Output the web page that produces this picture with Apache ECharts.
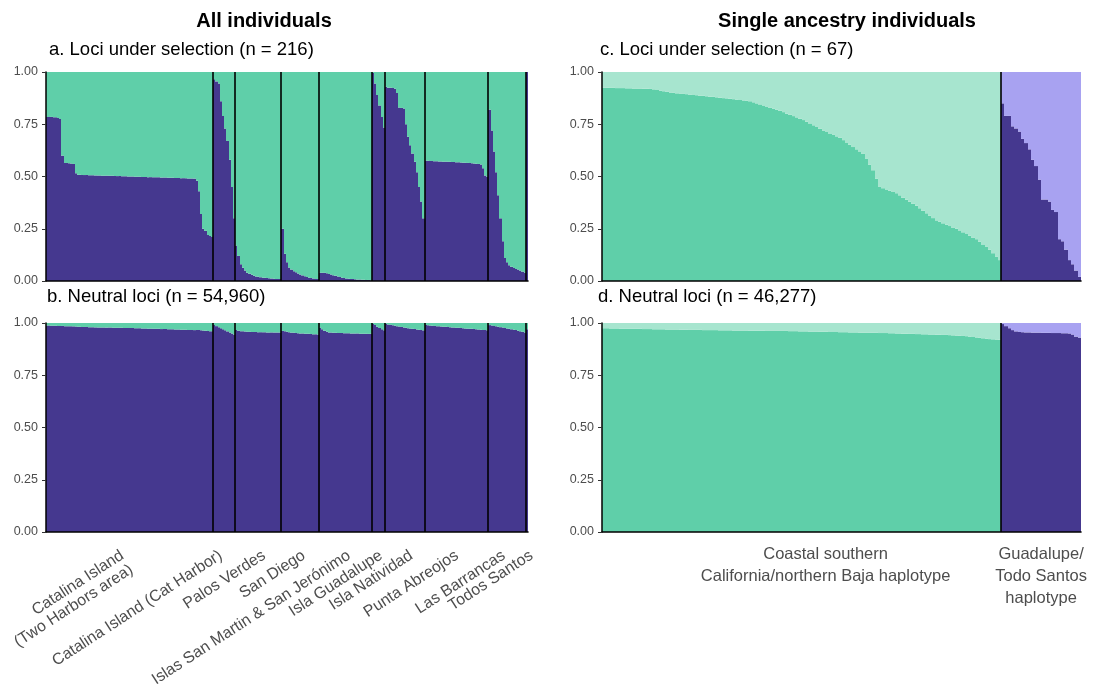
<!DOCTYPE html>
<html>
<head>
<meta charset="utf-8">
<script src="https://cdn.jsdelivr.net/npm/echarts@6/dist/echarts.min.js"></script>
<style>
  html, body { margin: 0; padding: 0; background: #ffffff; }
  #chart { width: 1099px; height: 694px; }
</style>
</head>
<body>
<div id="chart"></div>
<script>
// ---------------------------------------------------------------
// Sampling sites (all individuals), in plotting order
// ---------------------------------------------------------------
const populations = [
  'Catalina Island\n(Two Harbors area)',
  'Catalina Island (Cat Harbor)',
  'Palos Verdes',
  'San Diego',
  'Islas San Martin & San Jerónimo',
  'Isla Guadalupe',
  'Isla Natividad',
  'Punta Abreojos',
  'Las Barrancas',
  'Todos Santos'
];

// Ancestry proportion of the first cluster, one value per individual,
// grouped by sampling site. a. Loci under selection (n = 216)
const selectedAll = [
  [0.785, 0.785, 0.785, 0.784, 0.784, 0.780, 0.775,
   0.600,
   0.565, 0.565, 0.563, 0.562, 0.560,
   0.515,
   0.508, 0.508, 0.507, 0.507, 0.507, 0.506, 0.506, 0.506, 0.505, 0.505, 0.505,
   0.504, 0.504, 0.504, 0.503, 0.503, 0.503, 0.502, 0.502, 0.502, 0.501, 0.501,
   0.501, 0.500, 0.500, 0.500, 0.499, 0.499, 0.499, 0.498, 0.498, 0.498, 0.497,
   0.497, 0.497, 0.496, 0.496, 0.496, 0.495, 0.495, 0.495, 0.494, 0.494, 0.494,
   0.493, 0.493, 0.493, 0.492, 0.492, 0.492, 0.491, 0.491, 0.490,
   0.490, 0.480, 0.430, 0.320, 0.250, 0.240, 0.220, 0.215, 0.210],
  [0.965, 0.955, 0.945, 0.860, 0.790, 0.730, 0.670, 0.580, 0.450, 0.300],
  [0.170, 0.120, 0.080, 0.063, 0.050, 0.040, 0.035, 0.030, 0.025, 0.022, 0.020,
   0.018, 0.016, 0.015, 0.014, 0.013, 0.012, 0.011, 0.010, 0.010, 0.009],
  [0.250, 0.130, 0.090, 0.065, 0.055, 0.047, 0.042, 0.036, 0.031, 0.027, 0.023,
   0.019, 0.016, 0.014, 0.012, 0.010, 0.009],
  [0.040, 0.040, 0.039, 0.037, 0.034, 0.031, 0.028, 0.025, 0.022, 0.019, 0.016,
   0.014, 0.012, 0.011, 0.010, 0.009, 0.008, 0.007, 0.007, 0.006, 0.006, 0.005,
   0.005, 0.004],
  [0.995, 0.945, 0.890, 0.840, 0.785, 0.735],
  [0.930, 0.925, 0.925, 0.923, 0.920, 0.900, 0.830, 0.828, 0.825, 0.750, 0.690,
   0.650, 0.610, 0.570, 0.520, 0.450, 0.380, 0.300],
  [0.575, 0.575, 0.574, 0.574, 0.573, 0.573, 0.572, 0.572, 0.571, 0.571, 0.570,
   0.570, 0.569, 0.569, 0.568, 0.568, 0.567, 0.566, 0.566, 0.565, 0.564, 0.563,
   0.562, 0.561, 0.560, 0.558, 0.540, 0.505, 0.500],
  [0.820, 0.720, 0.620, 0.520, 0.410, 0.300, 0.190, 0.110, 0.090, 0.075, 0.068,
   0.062, 0.058, 0.055, 0.050, 0.045, 0.040],
  [1.000]
];

// b. Neutral loci (n = 54,960)
const neutralAll = [
  [0.988, 0.988, 0.987, 0.987, 0.987, 0.986, 0.986, 0.986, 0.985, 0.985, 0.985,
   0.984, 0.984, 0.983,
   0.982, 0.982, 0.981, 0.981, 0.981, 0.980, 0.980, 0.980, 0.979, 0.979, 0.979,
   0.979, 0.978, 0.978, 0.978, 0.978, 0.977, 0.977, 0.977, 0.977, 0.977, 0.976,
   0.976, 0.976, 0.976, 0.976,
   0.975, 0.975, 0.975, 0.974, 0.974, 0.974, 0.973, 0.973, 0.973, 0.972, 0.972,
   0.972, 0.971, 0.971, 0.971, 0.970, 0.970, 0.970, 0.969, 0.969, 0.969, 0.968,
   0.968, 0.968, 0.967, 0.967, 0.967, 0.966, 0.966, 0.966,
   0.965, 0.964, 0.963, 0.962, 0.961, 0.960],
  [0.990, 0.985, 0.980, 0.975, 0.970, 0.965, 0.960, 0.955, 0.950, 0.945],
  [0.966, 0.963, 0.961, 0.960, 0.959, 0.958, 0.958, 0.957, 0.957, 0.957, 0.956,
   0.956, 0.956, 0.956, 0.955, 0.955, 0.955, 0.955, 0.955, 0.954, 0.954],
  [0.962, 0.960, 0.958, 0.956, 0.954, 0.953, 0.952, 0.951, 0.950, 0.950, 0.949,
   0.948, 0.948, 0.947, 0.946, 0.946, 0.945],
  [0.978, 0.970, 0.963, 0.958, 0.955, 0.954, 0.953, 0.953, 0.952, 0.952, 0.952,
   0.951, 0.951, 0.951, 0.950, 0.950, 0.950, 0.950, 0.949, 0.949, 0.949, 0.948,
   0.948, 0.948],
  [0.995, 0.990, 0.982, 0.976, 0.970, 0.965],
  [0.995, 0.993, 0.991, 0.989, 0.987, 0.985, 0.983, 0.981, 0.979, 0.977, 0.975,
   0.974, 0.972, 0.971, 0.969, 0.968, 0.966, 0.965],
  [0.990, 0.989, 0.988, 0.987, 0.986, 0.985, 0.984, 0.983, 0.982, 0.982, 0.981,
   0.980, 0.979, 0.978, 0.977, 0.977, 0.976, 0.975, 0.974, 0.973, 0.973, 0.972,
   0.971, 0.970, 0.969, 0.968, 0.967, 0.966, 0.965],
  [0.990, 0.988, 0.986, 0.984, 0.982, 0.980, 0.978, 0.976, 0.974, 0.972, 0.970,
   0.968, 0.966, 0.963, 0.960, 0.958, 0.955],
  [0.970]
];

// Single ancestry individuals, grouped by haplotype
const haplotypes = [
  'Coastal southern\nCalifornia/northern Baja haplotype',
  'Guadalupe/\nTodo Santos\nhaplotype'
];

// c. Loci under selection (n = 67)
const coastalSelected = [
  0.925, 0.925, 0.924, 0.924, 0.923, 0.923, 0.923, 0.922, 0.922, 0.921, 0.921,
  0.921, 0.920, 0.920, 0.919,
  0.917, 0.914, 0.911, 0.908, 0.905, 0.902, 0.900,
  0.898, 0.897, 0.895, 0.894, 0.892, 0.890, 0.889, 0.887, 0.886, 0.884, 0.882,
  0.881, 0.879, 0.877, 0.875,
  0.874, 0.872, 0.870, 0.868, 0.866, 0.864, 0.862, 0.860,
  0.855, 0.850, 0.845, 0.840, 0.835, 0.830, 0.825, 0.820,
  0.814, 0.808, 0.801, 0.795, 0.789, 0.783, 0.776, 0.770,
  0.762, 0.754, 0.745, 0.737, 0.728, 0.720,
  0.713, 0.706, 0.699, 0.692, 0.685,
  0.674, 0.663, 0.652, 0.641, 0.630, 0.620, 0.610,
  0.584, 0.557, 0.530,
  0.490, 0.450,
  0.444, 0.438, 0.432, 0.426, 0.420,
  0.410, 0.399, 0.389, 0.379, 0.369, 0.360,
  0.348, 0.336, 0.324, 0.313, 0.301, 0.290,
  0.283, 0.276, 0.269, 0.263, 0.256, 0.250,
  0.242, 0.233, 0.225, 0.217, 0.208, 0.200,
  0.188, 0.175, 0.163, 0.150,
  0.133, 0.117, 0.100
];
const guadalupeSelected = [
  0.850, 0.790, 0.790, 0.740, 0.730, 0.715, 0.680, 0.660, 0.630, 0.580, 0.550,
  0.485, 0.390, 0.390, 0.380, 0.340, 0.330, 0.200, 0.190, 0.150, 0.100, 0.080,
  0.050, 0.020
];

// d. Neutral loci (n = 46,277)
const coastalNeutral = [
  0.975, 0.975, 0.974, 0.974, 0.974, 0.973, 0.973, 0.973, 0.972, 0.972, 0.972,
  0.972, 0.971, 0.971, 0.971, 0.970, 0.970, 0.970, 0.970, 0.969, 0.969, 0.969,
  0.969, 0.968, 0.968, 0.968,
  0.967, 0.967, 0.967, 0.967, 0.966, 0.966, 0.966, 0.966, 0.966, 0.965, 0.965,
  0.965, 0.965, 0.964, 0.964, 0.964, 0.964, 0.964, 0.963, 0.963, 0.963, 0.963,
  0.963, 0.962, 0.962, 0.962, 0.962, 0.962, 0.962, 0.962,
  0.961, 0.961, 0.961, 0.960, 0.960, 0.960, 0.959, 0.959, 0.959, 0.958, 0.958,
  0.958, 0.957, 0.957, 0.957, 0.956, 0.956, 0.956, 0.955, 0.955, 0.955, 0.954,
  0.954, 0.954, 0.953, 0.953, 0.953, 0.952, 0.952, 0.952,
  0.951, 0.951, 0.950, 0.950, 0.949, 0.949, 0.948, 0.948, 0.947, 0.947, 0.946,
  0.946, 0.945, 0.945, 0.944, 0.944, 0.943, 0.943, 0.942, 0.941,
  0.940, 0.939, 0.938, 0.937, 0.935, 0.933, 0.931, 0.929, 0.927, 0.925, 0.923,
  0.922, 0.921, 0.920
];
const guadalupeNeutral = [
  0.995, 0.985, 0.975, 0.966, 0.960, 0.957, 0.956, 0.955, 0.955, 0.954, 0.954,
  0.954, 0.953, 0.953, 0.953, 0.952, 0.952, 0.952, 0.951, 0.951, 0.950, 0.945,
  0.935, 0.930
];

// ---------------------------------------------------------------
// Styling and layout
// ---------------------------------------------------------------
const FONT = '"Liberation Sans", Arial, Helvetica, sans-serif';
const TEXT_GREY = '#4d4d4d';
const DARK_PURPLE = '#45388f';
const GREEN = '#5fcfa9';
const LIGHT_GREEN = '#a7e5cf';
const LIGHT_PURPLE = '#a8a2f1';

const GRIDS = [
  { left: 46,  top: 72,  width: 482, height: 209 },   // a
  { left: 46,  top: 323, width: 482, height: 209 },   // b
  { left: 602, top: 72,  width: 479, height: 209 },   // c
  { left: 602, top: 323, width: 479, height: 209 }    // d
];

// Pixel shifts of the site / haplotype label anchors from the group centres
// (kept inside the axis range so every label is drawn)
const SITE_LABEL_SHIFT = [-12, -8, 1, -1, -1, -2, 2, -4, -8, 0];
const HAPLO_LABEL_SHIFT = [24, 0];

// ---------------------------------------------------------------
// Helpers
// ---------------------------------------------------------------
// Turn grouped proportions into stacked bar segments:
// [index, lower, upper, groupIndex, part(0 = bottom, 1 = top)]
function segments(groups) {
  const rows = [];
  let i = 0;
  groups.forEach((g, gi) => {
    g.forEach(q => {
      rows.push([i, 0, q, gi, 0]);
      rows.push([i, q, 1, gi, 1]);
      i++;
    });
  });
  return rows;
}
function groupEdges(groups) {
  const edges = [];
  let acc = 0;
  groups.forEach((g, gi) => {
    acc += g.length;
    if (gi < groups.length - 1) edges.push(acc);
  });
  return edges;
}
function groupCentres(groups) {
  const c = [];
  let acc = 0;
  groups.forEach(g => { c.push(acc + g.length / 2); acc += g.length; });
  return c;
}
function total(groups) { return groups.reduce((s, g) => s + g.length, 0); }

function barSeries(k, groups, palette) {
  return {
    type: 'custom',
    xAxisIndex: k, yAxisIndex: k,
    silent: true,
    z: 2,
    data: segments(groups),
    renderItem: function (params, api) {
      const i = api.value(0), lo = api.value(1), hi = api.value(2);
      const gi = api.value(3), part = api.value(4);
      const p0 = api.coord([i, lo]);
      const p1 = api.coord([i + 1, hi]);
      const x0 = Math.round(p0[0]), x1 = Math.round(p1[0]);
      return {
        type: 'rect',
        shape: { x: x0, y: p1[1], width: x1 - x0, height: p0[1] - p1[1] },
        style: { fill: palette[gi][part] }
      };
    }
  };
}
function dividerSeries(k, groups) {
  return {
    type: 'custom',
    xAxisIndex: k, yAxisIndex: k,
    silent: true,
    z: 5,
    data: groupEdges(groups).map(e => [e]),
    renderItem: function (params, api) {
      const b = api.value(0);
      const top = api.coord([b, 1]);
      const bottom = api.coord([b, 0]);
      const x = Math.round(top[0]);
      return {
        type: 'line',
        shape: { x1: x, y1: top[1], x2: x, y2: bottom[1] },
        style: { stroke: '#000000', lineWidth: 1.6 }
      };
    }
  };
}

const leftGroupsA = selectedAll;
const leftGroupsB = neutralAll;
const rightGroupsC = [coastalSelected, guadalupeSelected];
const rightGroupsD = [coastalNeutral, guadalupeNeutral];

const nLeft = total(leftGroupsA);
const nRight = total(rightGroupsC);

const leftPxPerUnit = GRIDS[1].width / nLeft;
const rightPxPerUnit = GRIDS[3].width / nRight;

const siteAnchors = groupCentres(neutralAll).map((c, i) => c + SITE_LABEL_SHIFT[i] / leftPxPerUnit);
const haploAnchors = groupCentres(rightGroupsD).map((c, i) => c + HAPLO_LABEL_SHIFT[i] / rightPxPerUnit);

// Label positions on an axis, padded with blank labels at both axis ends so
// the axis' own first/last-label overlap handling never drops a site name.
function paddedTicks(anchors, n) { return [0].concat(anchors, [n]); }
function labelFor(anchors, names, n, v) {
  if (v <= 0 || v >= n) return '';
  let best = 0;
  anchors.forEach((a, i) => { if (Math.abs(a - v) < Math.abs(anchors[best] - v)) best = i; });
  return names[best];
}

function yAxis(k) {
  return {
    type: 'value', gridIndex: k, min: 0, max: 1, interval: 0.25, z: 10,
    axisLine: { show: true, lineStyle: { color: '#000000', width: 1.5 } },
    axisTick: { show: true, length: 4, lineStyle: { color: '#333333', width: 1 } },
    axisLabel: {
      formatter: v => v.toFixed(2), color: TEXT_GREY, fontSize: 12.5,
      fontFamily: FONT, margin: 8
    },
    splitLine: { show: false }
  };
}
function xAxis(k, n, label) {
  return {
    type: 'value', gridIndex: k, min: 0, max: n, z: 10,
    axisLine: { show: true, onZero: false, lineStyle: { color: '#000000', width: 1.6 } },
    axisTick: { show: false },
    splitLine: { show: false },
    axisLabel: label || { show: false }
  };
}

const leftPalette = neutralAll.map(() => [DARK_PURPLE, GREEN]);
const rightPalette = [[GREEN, LIGHT_GREEN], [DARK_PURPLE, LIGHT_PURPLE]];

const option = {
  animation: false,
  backgroundColor: '#ffffff',
  grid: GRIDS.map(g => Object.assign({ containLabel: false, outerBoundsMode: 'none' }, g)),
  xAxis: [
    xAxis(0, nLeft),
    xAxis(1, nLeft, {
      show: true,
      customValues: paddedTicks(siteAnchors, nLeft),
      formatter: v => labelFor(siteAnchors, populations, nLeft, v),
      rotate: 33,
      align: 'right',
      verticalAlign: 'top',
      color: TEXT_GREY,
      fontSize: 16,
      lineHeight: 17,
      fontFamily: FONT,
      margin: 15,
      hideOverlap: false
    }),
    xAxis(2, nRight),
    xAxis(3, nRight, {
      show: true,
      customValues: paddedTicks(haploAnchors, nRight),
      formatter: v => labelFor(haploAnchors, haplotypes, nRight, v),
      color: TEXT_GREY,
      fontSize: 16.5,
      lineHeight: 22,
      fontFamily: FONT,
      margin: 11,
      align: 'center',
      hideOverlap: false
    })
  ],
  yAxis: [yAxis(0), yAxis(1), yAxis(2), yAxis(3)],
  series: [
    barSeries(0, leftGroupsA, leftPalette),
    dividerSeries(0, leftGroupsA),
    barSeries(1, leftGroupsB, leftPalette),
    dividerSeries(1, leftGroupsB),
    barSeries(2, rightGroupsC, rightPalette),
    dividerSeries(2, rightGroupsC),
    barSeries(3, rightGroupsD, rightPalette),
    dividerSeries(3, rightGroupsD)
  ],
  graphic: [
    { type: 'text', x: 264, y: 21, silent: true,
      style: { text: 'All individuals', font: 'bold 20px ' + FONT, fill: '#000000',
               align: 'center', verticalAlign: 'middle', textAlign: 'center', textVerticalAlign: 'middle' } },
    { type: 'text', x: 847, y: 21, silent: true,
      style: { text: 'Single ancestry individuals', font: 'bold 20px ' + FONT, fill: '#000000',
               align: 'center', verticalAlign: 'middle', textAlign: 'center', textVerticalAlign: 'middle' } },
    { type: 'text', x: 49, y: 50, silent: true,
      style: { text: 'a. Loci under selection (n = 216)', font: '18.5px ' + FONT, fill: '#000000',
               align: 'left', verticalAlign: 'middle', textAlign: 'left', textVerticalAlign: 'middle' } },
    { type: 'text', x: 47, y: 297, silent: true,
      style: { text: 'b. Neutral loci (n = 54,960)', font: '18.5px ' + FONT, fill: '#000000',
               align: 'left', verticalAlign: 'middle', textAlign: 'left', textVerticalAlign: 'middle' } },
    { type: 'text', x: 600, y: 50, silent: true,
      style: { text: 'c. Loci under selection (n = 67)', font: '18.5px ' + FONT, fill: '#000000',
               align: 'left', verticalAlign: 'middle', textAlign: 'left', textVerticalAlign: 'middle' } },
    { type: 'text', x: 598, y: 297, silent: true,
      style: { text: 'd. Neutral loci (n = 46,277)', font: '18.5px ' + FONT, fill: '#000000',
               align: 'left', verticalAlign: 'middle', textAlign: 'left', textVerticalAlign: 'middle' } }
  ]
};

const chart = echarts.init(document.getElementById('chart'), null, { renderer: 'canvas' });
chart.setOption(option);
</script>
</body>
</html>
